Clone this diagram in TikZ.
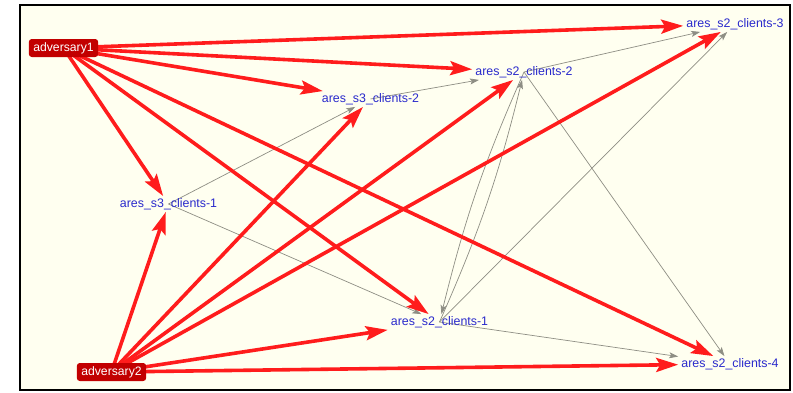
\documentclass[tikz,border=0pt]{standalone}
\usepackage{fontspec}
\setmainfont{Liberation Sans}
\usetikzlibrary{arrows.meta}
\pgfdeclarelayer{back}
\pgfdeclarelayer{edges}
\pgfsetlayers{back,edges,main}

\definecolor{paper}{HTML}{FFFFF0}
\definecolor{advfill}{HTML}{C20000}
\definecolor{attack}{HTML}{FF1C1C}
\definecolor{link}{HTML}{8E8E84}
\definecolor{hostlabel}{HTML}{2A2ACC}

\begin{document}
\begin{tikzpicture}[x=1pt,y=-1pt,
  host/.style={text=hostlabel, font=\fontsize{12.4}{14}\selectfont,
    inner xsep=3pt, inner ysep=2pt},
  adversary/.style={fill=advfill, text=white, rounded corners=3pt,
    font=\fontsize{12.2}{14}\selectfont, inner xsep=4.5pt, inner ysep=2pt,
    minimum height=18pt},
  attackedge/.style={draw=attack, line width=3.6pt,
    -{Stealth[length=22pt,width=14pt,inset=4pt]}},
  linkedge/.style={draw=link, line width=0.7pt,
    -{Stealth[length=9pt,width=6pt,inset=2pt]}}]

% canvas and frame
\useasboundingbox (0,0) rectangle (793,392);
\begin{pgfonlayer}{back}
  \fill[white] (0,0) rectangle (793,392);
  \draw[fill=paper, line width=2pt] (20,5) rectangle (790,390);
\end{pgfonlayer}

% nodes
\node[adversary] (adv1) at (63.5,48) {adversary1};
\node[adversary] (adv2) at (111.5,372) {adversary2};
\node[host] (s31) at (168.5,204) {ares\_s3\_clients-1};
\node[host] (s32) at (370.5,99) {ares\_s3\_clients-2};
\node[host] (s22) at (524,72) {ares\_s2\_clients-2};
\node[host] (s23) at (735,24) {ares\_s2\_clients-3};
\node[host] (s21) at (439.5,322) {ares\_s2\_clients-1};
\node[host] (s24) at (730,364) {ares\_s2\_clients-4};

\begin{pgfonlayer}{edges}
  % links between clients
  \draw[linkedge] (s31.center) -- (s32);
  \draw[linkedge] (s31.center) -- (s21);
  \draw[linkedge] (s32.center) -- (s22);
  \draw[linkedge] (s22.center) -- (s23);
  \draw[linkedge] (s21.center) to[bend right=5] (s22);
  \draw[linkedge] (s22.center) to[bend right=5] (s21);
  \draw[linkedge] (s21.center) -- (s23);
  \draw[linkedge] (s22.center) -- (s24);
  \draw[linkedge] (s21.center) -- (s24);

  % attacks
  \foreach \t in {s23,s22,s32,s31,s21,s24}
    \draw[attackedge] (adv1.center) -- (\t);
  \foreach \t in {s31,s32,s22,s23,s21,s24}
    \draw[attackedge] (adv2.center) -- (\t);
\end{pgfonlayer}
\end{tikzpicture}
\end{document}
